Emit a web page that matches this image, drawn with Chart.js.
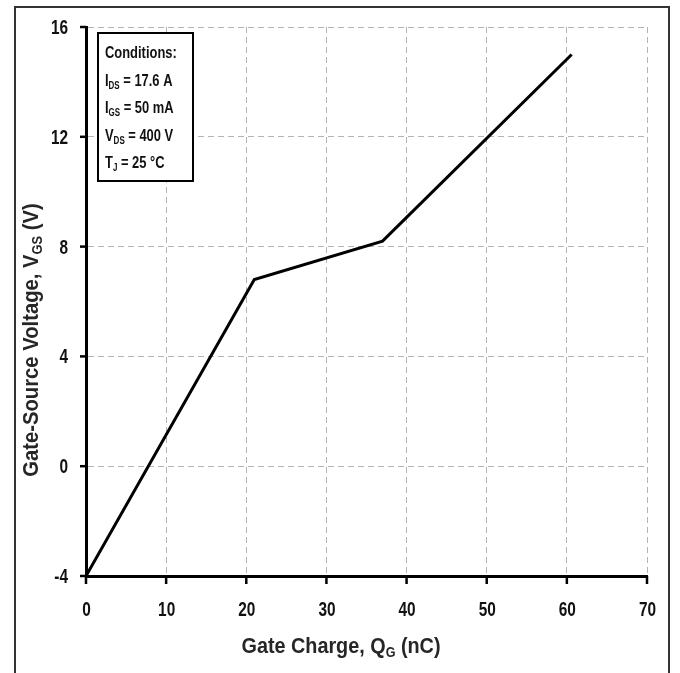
<!DOCTYPE html>
<html><head><meta charset="utf-8">
<script src="https://cdn.jsdelivr.net/npm/chart.js@4.4.0/dist/chart.umd.min.js"></script>
<style>html,body{margin:0;padding:0;background:#fff}#wrap{width:680px;height:673px}</style>
</head><body><div id="wrap"><canvas id="c" width="680" height="673"></canvas></div>
<script>
// ---- data ----
const gateCharge = [0, 21, 37, 60.6];
const gateVoltage = [-4, 6.8, 8.2, 15];
const xTicks = [0, 10, 20, 30, 40, 50, 60, 70];
const yTicks = [-4, 0, 4, 8, 12, 16];
const xTitle = [['Gate Charge, Q', 0], ['G', 1], [' (nC)', 0]];
const yTitle = [['Gate-Source Voltage, V', 0], ['GS', 1], [' (V)', 0]];
const conditionLines = [
  [['Conditions:', 0]],
  [['I', 0], ['DS', 1], [' = 17.6 A', 0]],
  [['I', 0], ['GS', 1], [' = 50 mA', 0]],
  [['V', 0], ['DS', 1], [' = 400 V', 0]],
  [['T', 0], ['J', 1], [' = 25 °C', 0]]
];

const FAMILY = '"Liberation Sans", Arial, sans-serif';

// draws a run of text parts (normal / subscript), horizontally condensed by hs
function drawParts(ctx, parts, x, y, size, subSize, subDrop, align, hs) {
  const widths = parts.map(p => {
    ctx.font = 'bold ' + (p[1] ? subSize : size) + 'px ' + FAMILY;
    return ctx.measureText(p[0]).width;
  });
  const total = widths.reduce((a, b) => a + b, 0);
  ctx.save();
  ctx.translate(x, y);
  ctx.scale(hs, 1);
  let cx = align === 'center' ? -total / 2 : (align === 'right' ? -total : 0);
  ctx.textAlign = 'left';
  ctx.textBaseline = 'alphabetic';
  parts.forEach((p, i) => {
    ctx.font = 'bold ' + (p[1] ? subSize : size) + 'px ' + FAMILY;
    ctx.fillText(p[0], cx, p[1] ? subDrop : 0);
    cx += widths[i];
  });
  ctx.restore();
}

const decor = {
  id: 'decor',
  beforeDraw(chart) {
    const ctx = chart.ctx;
    ctx.save();
    ctx.fillStyle = '#fff';
    ctx.fillRect(0, 0, chart.width, chart.height);
    ctx.restore();
  },
  afterDraw(chart) {
    const ctx = chart.ctx;
    const a = chart.chartArea;
    const xs = chart.scales.x, ys = chart.scales.y;
    ctx.save();
    // outer frame
    ctx.strokeStyle = '#333';
    ctx.lineWidth = 2;
    ctx.beginPath();
    ctx.moveTo(15, 673); ctx.lineTo(15, 7); ctx.lineTo(669, 7); ctx.lineTo(669, 673);
    ctx.stroke();
    // tick marks
    ctx.strokeStyle = '#000';
    ctx.lineWidth = 2.5;
    xTicks.forEach(v => {
      const px = xs.getPixelForValue(v);
      ctx.beginPath(); ctx.moveTo(px, a.bottom); ctx.lineTo(px, a.bottom + 8); ctx.stroke();
    });
    yTicks.forEach(v => {
      const py = ys.getPixelForValue(v);
      ctx.beginPath(); ctx.moveTo(a.left - 6, py); ctx.lineTo(a.left, py); ctx.stroke();
    });
    // tick labels
    ctx.fillStyle = '#111';
    xTicks.forEach(v => {
      drawParts(ctx, [[String(v), 0]], xs.getPixelForValue(v) + 0.5, a.bottom + 40, 20.5, 12, 0, 'center', 0.75);
    });
    yTicks.forEach(v => {
      drawParts(ctx, [[String(v), 0]], a.left - 18, ys.getPixelForValue(v) + 7, 20.5, 12, 0, 'right', 0.75);
    });
    // axis titles
    ctx.fillStyle = '#262626';
    drawParts(ctx, xTitle, 341, 653, 22, 14, 4, 'center', 0.9);
    ctx.save();
    ctx.translate(38, 340);
    ctx.rotate(-Math.PI / 2);
    drawParts(ctx, yTitle, 0, 0, 22, 14, 4, 'center', 0.92);
    ctx.restore();
    // conditions box
    const bx = a.left + 12, by = a.top + 6, bw = 95, bh = 148;
    ctx.fillStyle = '#fff';
    ctx.fillRect(bx, by, bw, bh);
    ctx.strokeStyle = '#000';
    ctx.lineWidth = 2;
    ctx.strokeRect(bx, by, bw, bh);
    ctx.fillStyle = '#111';
    conditionLines.forEach((ln, i) => {
      drawParts(ctx, ln, bx + 7, by + 25 + i * 27.5, 17, 10.5, 3, 'left', 0.76);
    });
    ctx.restore();
  }
};

new Chart(document.getElementById('c'), {
  type: 'line',
  data: {
    datasets: [{
      data: gateCharge.map((x, i) => ({ x: x, y: gateVoltage[i] })),
      borderColor: '#000',
      borderWidth: 3,
      pointRadius: 0,
      tension: 0,
      fill: false
    }]
  },
  options: {
    responsive: false,
    animation: false,
    devicePixelRatio: 1,
    layout: { padding: { top: 27, right: 33, left: 0, bottom: 0 } },
    plugins: { legend: { display: false }, tooltip: { enabled: false } },
    scales: {
      x: {
        type: 'linear', min: 0, max: 70,
        afterBuildTicks: s => { s.ticks = xTicks.map(v => ({ value: v })); },
        afterFit: s => { s.height = 97; },
        grid: { color: '#b4b4b4', lineWidth: 1, drawTicks: false },
        border: { display: true, color: '#000', width: 3, dash: [6, 4] },
        ticks: { display: false }
      },
      y: {
        type: 'linear', min: -4, max: 16,
        afterBuildTicks: s => { s.ticks = yTicks.map(v => ({ value: v })); },
        afterFit: s => { s.width = 86; },
        grid: { color: '#b4b4b4', lineWidth: 1, drawTicks: false },
        border: { display: true, color: '#000', width: 3, dash: [6, 4] },
        ticks: { display: false }
      }
    }
  },
  plugins: [decor]
});
</script></body></html>
